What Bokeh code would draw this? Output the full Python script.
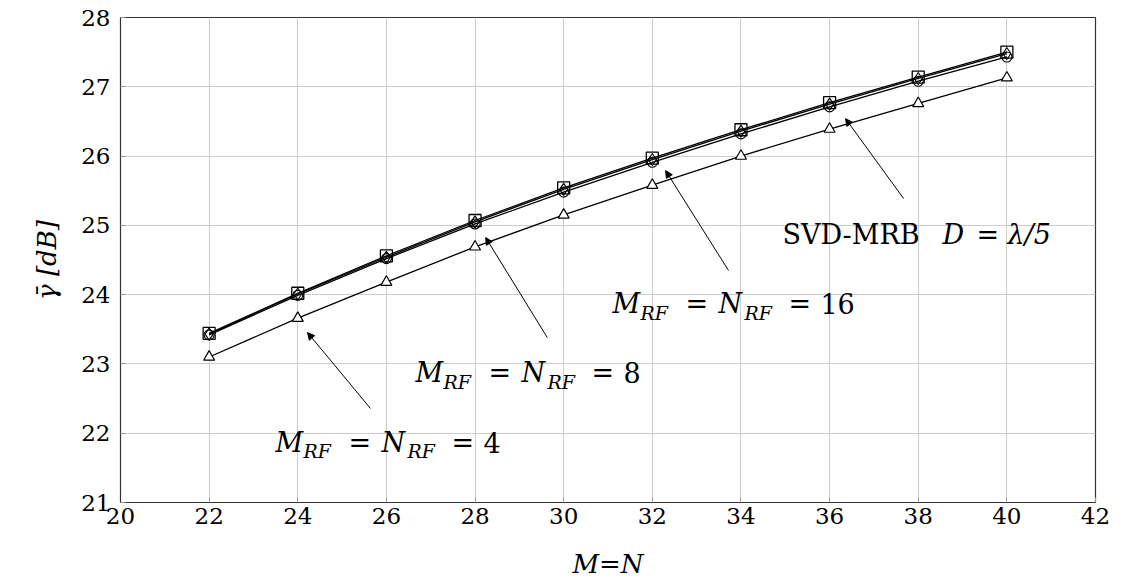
from bokeh.plotting import figure
from bokeh.models import Label, Arrow, NormalHead, FixedTicker, Range1d
from bokeh.embed import file_html
from bokeh.resources import INLINE

# ---- data ----
mn = [22, 24, 26, 28, 30, 32, 34, 36, 38, 40]
svd_mrb = [23.44, 24.02, 24.56, 25.07, 25.54, 25.97, 26.38, 26.77, 27.14, 27.50]
rf16 = [23.43, 24.01, 24.54, 25.05, 25.52, 25.95, 26.36, 26.75, 27.12, 27.48]
rf8 = [23.42, 23.99, 24.52, 25.02, 25.48, 25.91, 26.32, 26.71, 27.08, 27.43]
rf4 = [23.10, 23.66, 24.18, 24.69, 25.15, 25.58, 26.00, 26.39, 26.76, 27.13]
x_ticks = [20, 22, 24, 26, 28, 30, 32, 34, 36, 38, 40, 42]
y_ticks = [21, 22, 23, 24, 25, 26, 27, 28]

FONT = "DejaVu Serif"

p = figure(frame_width=975, frame_height=485, width=1121, height=582,
           min_border_left=120, min_border_right=26, min_border_top=17, min_border_bottom=80,
           x_range=Range1d(20, 42), y_range=Range1d(21, 28),
           output_backend="svg", toolbar_location=None)
p.outline_line_color = "#333333"
p.outline_line_width = 1.2
p.background_fill_color = "white"
p.border_fill_color = "white"

for ax in (p.xaxis[0], p.yaxis[0]):
    ax.major_label_text_font = FONT
    ax.major_label_text_font_size = "23px"
    ax.major_label_text_color = "black"
    ax.axis_label_text_font = FONT
    ax.axis_label_text_font_size = "26px"
    ax.axis_label_text_font_style = "italic"
    ax.axis_label_text_color = "black"
    ax.axis_line_color = "#333333"
    ax.major_tick_line_color = "#999999"
    ax.major_tick_in = 5
    ax.major_tick_out = 0
    ax.minor_tick_line_color = None

p.xaxis.ticker = FixedTicker(ticks=x_ticks)
p.yaxis.ticker = FixedTicker(ticks=y_ticks)
p.xaxis.major_label_standoff = 5
p.yaxis.major_label_standoff = 10
p.xaxis.axis_label = "M=N"
p.yaxis.axis_label = "γ̄ [dB]"
p.xaxis.axis_label_standoff = 22
p.yaxis.axis_label_standoff = 16

p.grid.grid_line_color = "#cccccc"
p.grid.grid_line_width = 1

LW = 1.3
p.line(mn, svd_mrb, line_color="black", line_width=LW)
p.line(mn, rf16, line_color="black", line_width=LW)
p.line(mn, rf8, line_color="black", line_width=LW)
p.line(mn, rf4, line_color="black", line_width=LW)
p.scatter(mn, svd_mrb, marker="square", size=12, fill_color="white", fill_alpha=0.0, line_color="black", line_width=1.3)
p.scatter(mn, rf16, marker="diamond", size=12, fill_color="white", fill_alpha=0.0, line_color="black", line_width=1.1)
p.scatter(mn, rf8, marker="circle", size=10, fill_color="white", fill_alpha=0.0, line_color="black", line_width=1.1)
p.scatter(mn, rf4, marker="triangle", size=11, fill_color="white", line_color="black", line_width=1.2)

# ---- annotations ----
MAIN = "27px"
SUB = "19px"

def piece(x, y, dx, dy, text, size=MAIN, style="normal"):
    p.add_layout(Label(x=x, y=y, x_offset=dx, y_offset=dy, text=text,
                       text_font=FONT, text_font_size=size, text_font_style=style,
                       text_color="black", text_baseline="alphabetic", text_align="left"))

rf_labels = [("4", 23.497, 21.866), ("8", 26.656, 22.876), ("16", 31.10, 23.872)]
for num, lx, ly in rf_labels:
    piece(lx, ly, 0, 0, "M", style="italic")
    piece(lx, ly, 28, -9, "RF", size=SUB, style="italic")
    piece(lx, ly, 73, 0, "=")
    piece(lx, ly, 106, 0, "N", style="italic")
    piece(lx, ly, 132, -9, "RF", size=SUB, style="italic")
    piece(lx, ly, 176, 0, "=")
    piece(lx, ly, 208, 0, num)

sx, sy = 34.937, 24.868
piece(sx, sy, 0, 0, "SVD-MRB")
piece(sx, sy, 160, 0, "D", style="italic")
piece(sx, sy, 194, 0, "=")
piece(sx, sy, 225, 0, "λ/5", style="italic")

arrows = [((25.64, 22.357), (24.22, 23.453)),
          ((29.63, 23.381), (28.24, 24.824)),
          ((33.72, 24.348), (32.30, 25.79)),
          ((37.67, 25.387), (36.36, 26.54))]
for (x0, y0), (x1, y1) in arrows:
    p.add_layout(Arrow(x_start=x0, y_start=y0, x_end=x1, y_end=y1,
                       line_color="black", line_width=1.0,
                       end=NormalHead(size=7, fill_color="black", line_color="black")))

open("out.html", "w").write(file_html(p, INLINE))
